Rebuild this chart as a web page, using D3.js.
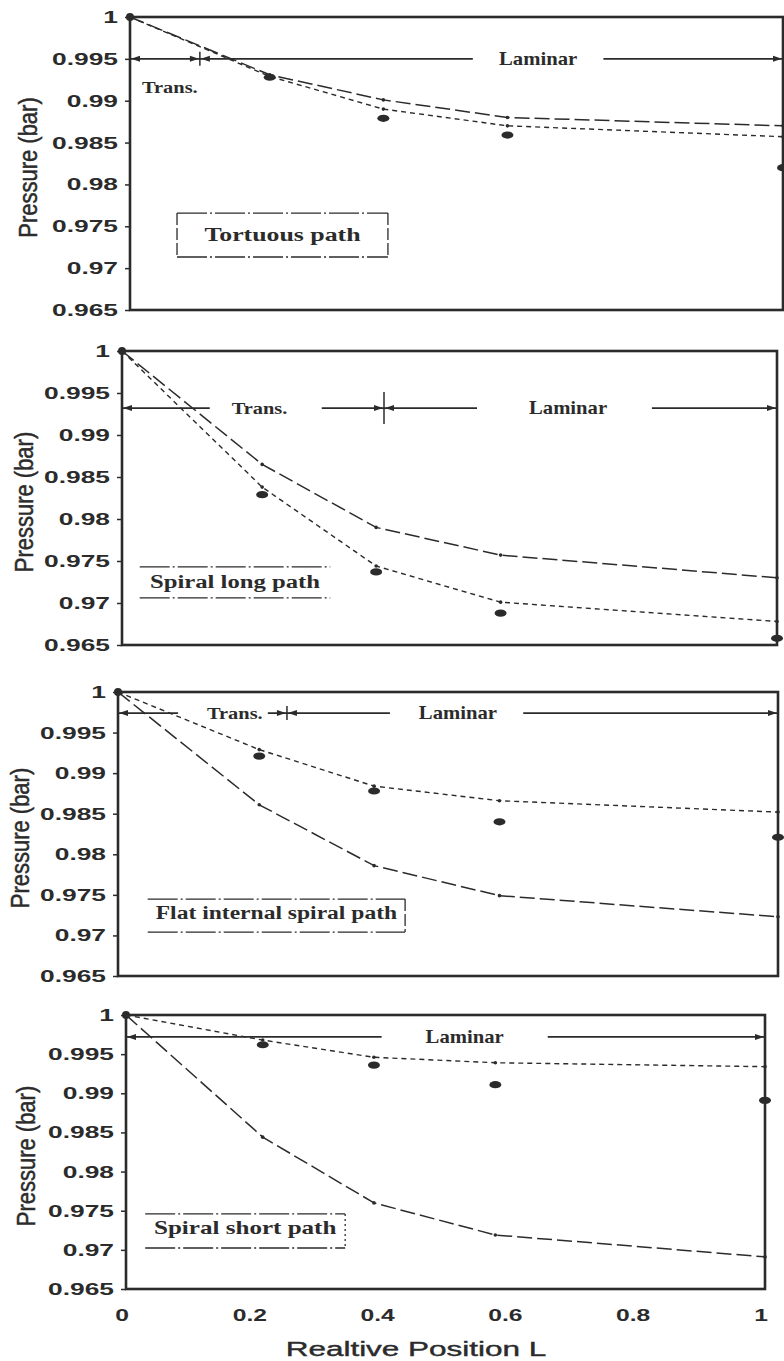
<!DOCTYPE html>
<html>
<head>
<meta charset="utf-8">
<script src="https://cdn.jsdelivr.net/npm/d3@7"></script>
<style>
  body { margin: 0; background: #fff; }
  svg { display: block; }
</style>
</head>
<body>
<script>
// positions along the path where the model nodes / measurements sit
const xPos = [0, 0.214, 0.388, 0.578, 1];

const panelNames = ['Tortuous path', 'Spiral long path', 'Flat internal spiral path', 'Spiral short path'];

// measured pressures (filled dots)
const measured = [
    [1, 0.9928, 0.9879, 0.9859, 0.9820],
    [1, 0.9829, 0.9737, 0.9688, 0.9658],
    [1, 0.9921, 0.9878, 0.9840, 0.9821],
    [1, 0.9962, 0.9936, 0.9911, 0.9891]
];
// long dash model curve
const modelLong = [
    [1, 0.9931, 0.9901, 0.9880, 0.9870],
    [1, 0.9865, 0.9790, 0.9757, 0.9730],
    [1, 0.9861, 0.9786, 0.9749, 0.9723],
    [1, 0.9844, 0.9760, 0.9719, 0.9691]
];
// short dash model curve
const modelShort = [
    [1, 0.9929, 0.9890, 0.9870, 0.9857],
    [1, 0.9838, 0.9744, 0.9701, 0.9678],
    [1, 0.9929, 0.9884, 0.9866, 0.9852],
    [1, 0.9968, 0.9946, 0.9939, 0.9934]
];

const yTicks = [0.965, 0.97, 0.975, 0.98, 0.985, 0.99, 0.995, 1];
const xTicks = [0, 0.2, 0.4, 0.6, 0.8, 1];

// flow regime annotations
const regimeY = [0.995, 0.9932, 0.9974, 0.9972];
const transEnd = [0.107, 0.40, 0.256, null];
const transLabel = [[0.061, 0.9916], [0.21, null], [0.177, null], null];
const transGap = [null, [0.134, 0.305], [0.091, 0.227], null];
const laminarX = [0.625, 0.681, 0.515, 0.530];
const laminarGap = [[0.525, 0.725], [0.542, 0.809], [0.412, 0.614], [0.40, 0.66]];

// name label frames: [x0, x1, yTop, yBottom, yText]
const nameBox = [
    [0.072, 0.395, 0.97658, 0.97133, 0.97395],
    [0.027, 0.318, 0.97429, 0.97060, 0.97250],
    [0.045, 0.435, 0.97448, 0.97041, 0.97275],
    [0.030, 0.343, 0.97459, 0.97024, 0.97280]
];
const nameStretch = [1.36, 1.3, 1.24, 1.32];

// frame of each panel on the page (scan is a bit skewed)
const frames = [
    {left: 130, right: 783, top: 17, bottom: 310, title: 28},
    {left: 122, right: 777, top: 351, bottom: 645, title: 24},
    {left: 118, right: 778, top: 692, bottom: 976, title: 20},
    {left: 126, right: 765, top: 1015, bottom: 1289, title: 26}
];

const ink = '#2b2b2b';
const W = 784, H = 1361;

const svg = d3.select('body').append('svg')
    .attr('width', W)
    .attr('height', H);

function arrowHead(g, xt, yt, dir) {
    // dir = 1 points right, -1 points left
    g.append('path')
        .attr('d', `M${xt},${yt} L${xt - dir * 9},${yt - 3} L${xt - dir * 9},${yt + 3} Z`)
        .attr('fill', ink);
}

frames.forEach((f, i) => {
    const x = d3.scaleLinear().domain([0, 1]).range([f.left, f.right]);
    const y = d3.scaleLinear().domain([0.965, 1]).range([f.bottom, f.top]);
    const g = svg.append('g');

    // y axis
    const yAxis = g.append('g')
        .attr('transform', `translate(${f.left},0)`)
        .call(d3.axisLeft(y).tickValues(yTicks).tickFormat(d3.format('~g')).tickSize(5).tickSizeOuter(0));
    yAxis.select('.domain').remove();
    yAxis.selectAll('line').attr('stroke', ink).attr('stroke-width', 1.5);
    yAxis.selectAll('text')
        .attr('x', -12 / 1.55)
        .attr('transform', 'scale(1.55,1)')
        .attr('fill', ink)
        .style('font-family', 'Liberation Sans, Arial, sans-serif')
        .style('font-weight', 'bold')
        .style('font-size', '17px');

    // frame
    g.append('rect')
        .attr('x', f.left).attr('y', f.top)
        .attr('width', f.right - f.left).attr('height', f.bottom - f.top)
        .attr('fill', 'none').attr('stroke', ink).attr('stroke-width', 2.6);

    // y title
    g.append('text')
        .attr('transform', `translate(${f.title},${(f.top + f.bottom) / 2 + 4}) rotate(-90) scale(1,1.15)`)
        .attr('text-anchor', 'middle')
        .attr('dy', '0.35em')
        .attr('fill', ink)
        .attr('stroke', ink).attr('stroke-width', 0.4)
        .style('font-family', 'Liberation Sans, Arial, sans-serif')
        .style('font-size', '22px')
        .text('Pressure (bar)');

    // model curves
    const line = d3.line().x((d, j) => x(xPos[j])).y(d => y(d));
    g.append('path').datum(modelLong[i])
        .attr('d', line)
        .attr('fill', 'none').attr('stroke', ink).attr('stroke-width', 1.5)
        .attr('stroke-dasharray', '15,5');
    g.append('path').datum(modelShort[i])
        .attr('d', line)
        .attr('fill', 'none').attr('stroke', ink).attr('stroke-width', 1.4)
        .attr('stroke-dasharray', '5,4');
    [modelLong[i], modelShort[i]].forEach(s => {
        g.selectAll(null).data(s.slice(1)).join('circle')
            .attr('cx', (d, j) => x(xPos[j + 1]))
            .attr('cy', d => y(d))
            .attr('r', 1.8)
            .attr('fill', ink);
    });

    // measured points
    g.selectAll(null).data(measured[i]).join('ellipse')
        .attr('cx', (d, j) => x(xPos[j]))
        .attr('cy', d => y(d))
        .attr('rx', (d, j) => j === 0 ? 4 : 6)
        .attr('ry', (d, j) => j === 0 ? 4 : 3.6)
        .attr('fill', ink);

    // regime arrows
    const ry = y(regimeY[i]);
    const segs = [];
    let start = 0;
    if (transGap[i]) {
        segs.push([start, transGap[i][0]]);
        start = transGap[i][1];
    }
    segs.push([start, laminarGap[i][0]]);
    segs.push([laminarGap[i][1], 1]);
    segs.forEach(s => {
        g.append('line')
            .attr('x1', x(s[0])).attr('x2', x(s[1]))
            .attr('y1', ry).attr('y2', ry)
            .attr('stroke', ink).attr('stroke-width', 1.6);
    });
    arrowHead(g, x(0) + 1, ry, -1);
    arrowHead(g, x(1) - 1, ry, 1);
    if (transEnd[i] !== null) {
        const xb = x(transEnd[i]);
        g.append('line')
            .attr('x1', xb).attr('x2', xb)
            .attr('y1', ry - (i === 1 ? 16 : 7)).attr('y2', ry + (i === 1 ? 16 : 7))
            .attr('stroke', ink).attr('stroke-width', 1.5);
        arrowHead(g, xb - 1, ry, 1);
        arrowHead(g, xb + 1, ry, -1);
    }

    const serif = sel => sel
        .attr('fill', ink)
        .style('font-family', 'Liberation Serif, Times New Roman, serif')
        .style('font-weight', 'bold');

    g.append('text')
        .attr('transform', `translate(${x(laminarX[i])},${ry + 6}) scale(1.15,1)`)
        .attr('text-anchor', 'middle')
        .style('font-size', '18px')
        .call(serif)
        .text('Laminar');

    if (transLabel[i]) {
        const t = transLabel[i];
        const ty = t[1] === null ? ry + 6 : y(t[1]) + 6;
        g.append('text')
            .attr('transform', `translate(${x(t[0])},${ty}) scale(1.2,1)`)
            .attr('text-anchor', 'middle')
            .style('font-size', '17px')
            .call(serif)
            .text('Trans.');
    }

    // path name label with its frame
    const b = nameBox[i];
    const dash = '30,3,2,3';
    [b[2], b[3]].forEach(v => {
        g.append('line')
            .attr('x1', x(b[0])).attr('x2', x(b[1]))
            .attr('y1', y(v)).attr('y2', y(v))
            .attr('stroke', ink).attr('stroke-width', 1.3)
            .attr('stroke-dasharray', dash);
    });
    const sides = i === 0 ? [b[0], b[1]] : (i === 1 ? [] : [b[1]]);
    sides.forEach(v => {
        g.append('line')
            .attr('x1', x(v)).attr('x2', x(v))
            .attr('y1', y(b[2])).attr('y2', y(b[3]))
            .attr('stroke', ink).attr('stroke-width', 1.3)
            .attr('stroke-dasharray', i === 3 ? '2,3' : '12,3');
    });
    g.append('text')
        .attr('transform', `translate(${x((b[0] + b[1]) / 2)},${y(b[4]) + 6}) scale(${nameStretch[i]},1)`)
        .attr('text-anchor', 'middle')
        .style('font-size', '19px')
        .call(serif)
        .text(panelNames[i]);

    // x axis only under the last panel
    if (i === frames.length - 1) {
        const xAxis = g.append('g')
            .attr('transform', `translate(0,${f.bottom})`)
            .call(d3.axisBottom(x).tickValues(xTicks).tickFormat(d3.format('~g')).tickSize(0));
        xAxis.select('.domain').remove();
        xAxis.selectAll('.tick')
            .attr('transform', d => `translate(${x(d) - 4},0)`);
        xAxis.selectAll('text')
            .attr('y', 32)
            .attr('dy', 0)
            .attr('transform', 'scale(1.45,1)')
            .attr('fill', ink)
            .style('font-family', 'Liberation Sans, Arial, sans-serif')
            .style('font-weight', 'bold')
            .style('font-size', '17px');

        svg.append('text')
            .attr('transform', `translate(416,1356) scale(1.5,1)`)
            .attr('text-anchor', 'middle')
            .attr('fill', ink)
            .attr('stroke', ink).attr('stroke-width', 0.4)
            .style('font-family', 'Liberation Sans, Arial, sans-serif')
            .style('font-size', '21px')
            .text('Realtive Position L');
    }
});
</script>
</body>
</html>
